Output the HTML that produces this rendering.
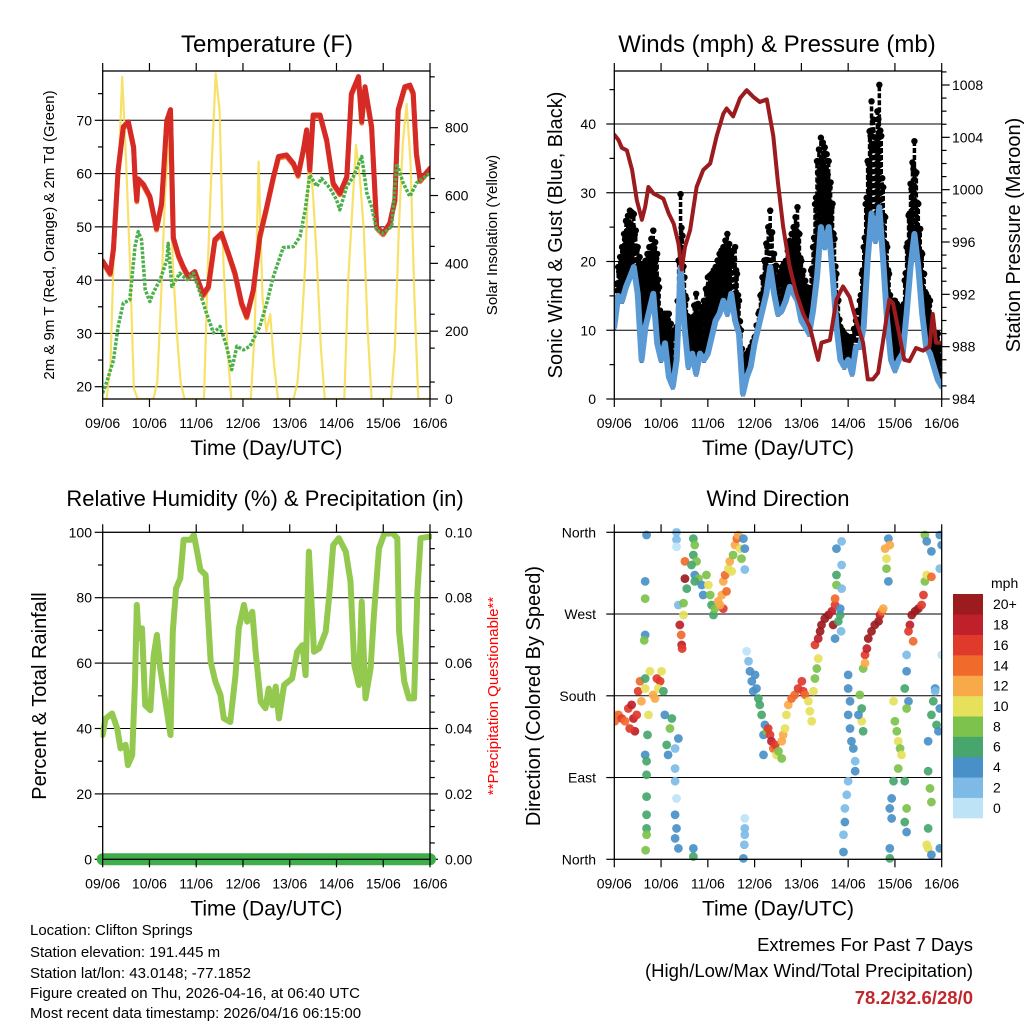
<!DOCTYPE html>
<html><head><meta charset="utf-8"><style>
html,body{margin:0;padding:0;background:#fff}
svg{display:block;font-family:"Liberation Sans",Arial,sans-serif}
</style></head><body>
<svg id="svg" width="1024" height="1024" viewBox="0 0 1024 1024" xmlns="http://www.w3.org/2000/svg">
<rect width="1024" height="1024" fill="#fff"/>
<g id="g1"></g>
<g id="g2"></g>
<g id="g3"></g>
<g id="g4"></g>
<g font-size="15" fill="#000">
<text x="30" y="935">Location: Clifton Springs</text>
<text x="30" y="957">Station elevation: 191.445 m</text>
<text x="30" y="978">Station lat/lon: 43.0148; -77.1852</text>
<text x="30" y="998">Figure created on Thu, 2026-04-16, at 06:40 UTC</text>
<text x="30" y="1018">Most recent data timestamp: 2026/04/16 06:15:00</text>
</g>
<g text-anchor="end">
<text x="973" y="951" font-size="18.5">Extremes For Past 7 Days</text>
<text x="973" y="977" font-size="18.5">(High/Low/Max Wind/Total Precipitation)</text>
<text x="973" y="1004" font-size="18.5" font-weight="bold" fill="#c0282d">78.2/32.6/28/0</text>
</g>
</svg>
<script>
const NS="http://www.w3.org/2000/svg";
const dayLabels=["09/06","10/06","11/06","12/06","13/06","14/06","15/06","16/06"];
// Temperature
const tempTimes=[0,.16,.23,.33,.44,.55,.66,.69,.73,.76,.87,1.01,1.15,1.26,1.37,1.45,1.51,1.62,1.72,1.83,1.97,2.15,2.26,2.40,2.54,2.69,2.83,2.97,3.08,3.22,3.36,3.51,3.65,3.76,3.93,4.08,4.18,4.29,4.36,4.43,4.50,4.65,4.79,4.93,5.07,5.22,5.32,5.47,5.54,5.61,5.75,5.86,6.00,6.14,6.25,6.32,6.46,6.57,6.64,6.71,6.79,7.0];
const tempVals=[43.6,41.3,46,60.7,68.8,69.7,65,59.4,55,59,58,55.7,49.7,54.4,70,72,48,44.7,42.6,40.7,41.6,37.3,38.8,47.6,48.8,45,41.3,35.7,33.2,38.2,48.2,53.8,59.4,63.2,63.5,61.9,59.75,64.4,68.2,60.7,71,71,66.3,58.2,56.3,59.4,75,78.2,69.75,76.3,68.8,50,48.8,50.7,55.1,72,76.3,76.6,75.1,63.8,58.8,61];
const dewTimes=[0,.09,.23,.33,.44,.58,.69,.76,.83,.91,1.01,1.08,1.23,1.37,1.40,1.48,1.65,1.80,1.94,2.08,2.22,2.37,2.51,2.65,2.76,2.87,3.01,3.15,3.36,3.51,3.65,3.86,4.08,4.22,4.33,4.43,4.58,4.68,4.86,5.0,5.07,5.22,5.36,5.54,5.65,5.75,5.86,6.0,6.18,6.29,6.43,6.57,6.71,7.0];
const dewVals=[18.8,21,25,31.3,35.7,36.3,46.3,49.1,47.6,38.2,36,37.6,40.1,43.8,46.9,38.8,41.3,40.1,41.3,37.6,33.8,30.1,31.3,27.6,23.2,27.6,26.9,27.6,31.3,35.7,40.7,46.1,46.3,48.2,53.2,59.75,57.6,59.1,57.25,55.1,53.2,57.6,59.4,63.2,56.3,53.8,49.4,48.8,50.1,61.9,58.2,55.7,58.2,60.1];
// solar, 2-hourly, 12 per day
const solarVals=[0,0,100,500,650,950,700,400,30,0,0,0,
0,0,50,300,600,780,400,200,50,0,0,0,
0,0,0,400,700,960,850,400,150,0,0,0,
0,0,0,200,700,300,200,250,100,0,0,0,
0,0,50,200,400,730,600,400,150,0,0,0,
0,0,0,350,550,750,650,500,200,0,0,0,
0,0,0,150,500,750,870,700,300,0,0,0,0];
const tempTicks=[20,30,40,50,60,70];
const solarTicks=[0,200,400,600,800];
// winds (2-hourly)
const windVals=[10.5,15,14.3,16.3,17.7,19.2,15.3,5.7,10.5,12.9,15.3,8.1,
5.7,8.1,3.2,1.8,5.7,19.2,10.5,4.7,6.6,3.7,6.6,5.7,
6.6,9,11.4,12.4,14.3,12.4,15.3,11.4,9.5,0.8,3.2,4.7,
8.1,10.5,12.9,15.3,19.2,15.3,12.4,12.9,14.3,16.3,15.3,14.3,
11.4,10.5,9.5,12.9,17.7,25,22.1,25,18.2,10.5,5.7,4.7,
5.7,3.7,7.6,7.6,10.5,20.1,27,23,27.9,20.1,11.4,5.7,
4.2,5.7,6.6,12.4,19.2,24,19.2,12.4,7.6,6.6,4.7,2.8,1.8];
const gustVals=[14.3,19.2,22.1,25.9,27.4,26.9,22.1,19.2,20.1,22.1,24.5,21.1,
11.4,12.4,12.4,9.5,10.5,29.8,17.7,11.4,11.9,15.3,12.4,14.3,
17.7,18.2,19.2,21.1,22.1,24,21.1,22.1,14.3,5.7,6.6,7.6,
9,12.4,17.7,22.6,27.4,21.1,17.7,19.2,20.1,23,25,27.9,
20.1,17.2,15.3,22.1,34.6,38,36.6,34.6,28.4,18.2,10.5,9.5,
9,9,11.4,14.3,22.1,34.6,43.3,38,45.7,30.8,22.1,14.3,
14.3,13.4,12.4,22.1,31.3,37.5,28.4,21.1,15.3,14.3,9,9.5,5];
const pressTimes=[0,.09,.16,.27,.38,.48,.59,.66,.73,.84,.95,1.05,1.16,1.27,1.37,1.44,1.51,1.62,1.76,1.90,2.05,2.19,2.33,2.40,2.54,2.69,2.83,2.97,3.11,3.26,3.40,3.50,3.61,3.75,3.89,4.04,4.18,4.32,4.36,4.43,4.61,4.75,4.89,5.03,5.17,5.32,5.42,5.53,5.64,5.74,5.88,5.96,6.10,6.20,6.31,6.45,6.60,6.74,6.81,6.88,7.0];
const pressVals=[1004.2,1003.8,1003.2,1003.0,1001.5,999.2,997.7,998.7,1000.2,999.7,999.5,999.3,998.2,997.4,995.9,993.9,995.6,996.9,1000.2,1001.5,1002.0,1004.1,1005.8,1006.2,1005.6,1007.0,1007.6,1007.1,1006.7,1006.9,1004.1,1000.5,997.2,994.1,992.1,990.5,989.5,987.5,987.0,988.3,988.5,991.6,992.6,991.8,990.0,988.3,985.5,985.5,986.0,988.3,991.6,991.3,988.8,987.0,986.9,987.9,987.7,988.0,990.5,988.3,988.3];
const windTicks=[0,10,20,30,40];
const pressTicks=[984,988,992,996,1000,1004,1008];
// RH
const rhTimes=[0,.06,.2,.31,.38,.49,.54,.63,.69,.73,.77,.84,.91,1.02,1.09,1.16,1.23,1.34,1.45,1.5,1.57,1.66,1.73,1.88,1.95,2.02,2.09,2.2,2.31,2.41,2.52,2.59,2.73,2.84,2.91,3.02,3.09,3.2,3.27,3.38,3.48,3.55,3.63,3.7,3.77,3.88,4.05,4.16,4.27,4.34,4.41,4.52,4.63,4.77,4.84,4.93,5.05,5.2,5.3,5.38,5.48,5.54,5.62,5.73,5.8,5.91,6.02,6.2,6.3,6.34,6.45,6.55,6.66,6.73,6.8,7.0];
const rhVals=[38,43,44.6,40,33.9,35,28.8,31.8,54.3,77.8,67.6,70.6,47.1,45.6,62.4,68.6,58.4,48.2,38,69.6,82.9,85.9,97.7,97.7,99.2,94.1,88.5,87,60.4,54.3,50.2,43.1,42,56.3,70.6,77.8,72.7,75.7,63.5,48.2,46.2,52.2,47.1,52.8,43.1,53.3,55.3,63.5,65.5,56.3,94.1,63.5,64.5,69.6,79.8,96.1,98.2,94.1,84.9,59.4,53.3,78.8,49.2,58.4,74.7,95.1,99.5,99.7,98.2,69.6,54.3,49.2,49.2,81.8,98.2,98.7];
const precipVals=[0,0];
const rhTicks=[0,20,40,60,80,100];
const precipTicks=["0.00","0.02","0.04","0.06","0.08","0.10"];
// wind direction
const dirTimes=[0,.01,.09,.16,.23,.3,.37,.41,.44,.33,.48,.51,.55,.58,.66,.73,.76,.83,.91,.98,1.01,.94,.87,
.69,.66,.66,.66,.64,.66,.71,.66,.69,.69,.69,.69,.69,.69,.67,
1.05,1.08,1.23,1.19,1.12,1.15,1.3,1.37,1.3,1.3,1.33,1.3,1.33,1.3,1.37,1.69,1.69,
1.33,1.33,1.33,1.37,1.48,1.48,1.4,1.43,1.44,1.45,1.51,1.51,1.55,
1.69,1.72,1.69,1.76,1.65,1.72,1.8,1.72,1.87,1.9,1.97,2.01,2.05,2.08,2.12,2.15,2.22,2.3,2.33,2.37,2.4,2.44,2.47,2.51,2.54,2.58,2.62,2.65,2.69,2.72,2.76,2.79,2.79,2.33,2.26,
2.83,2.87,2.9,2.94,2.97,3.01,3.04,3.08,3.11,3.15,3.22,3.19,3.26,3.29,3.33,3.36,3.4,3.44,3.47,3.51,3.58,3.58,3.61,3.65,3.68,3.72,3.79,3.86,3.93,4.01,4.04,4.08,4.15,4.18,4.22,4.26,4.29,4.33,4.36,3.19,2.79,2.79,2.79,2.78,2.76,
4.29,4.36,4.4,4.43,4.5,4.58,4.65,4.68,4.72,4.72,4.79,4.83,4.85,4.72,4.75,4.75,4.75,4.86,4.86,4.86,4.83,
5.0,5.0,5.04,5.0,5.04,5.07,5.11,5.15,5.15,5.0,4.97,4.93,4.93,4.9,4.9,5.25,5.29,5.29,5.32,5.22,
5.32,5.36,5.4,5.43,5.5,5.57,5.65,5.68,5.72,5.75,5.36,5.79,5.82,5.82,5.86,5.86,5.89,
5.97,6.0,6.04,6.07,6.11,6.14,6.07,5.97,5.93,5.89,5.93,6.21,6.25,6.29,6.25,6.21,6.25,6.21,6.25,5.89,5.89,6.25,
6.32,6.36,6.43,6.5,6.57,6.61,6.64,6.68,6.78,6.29,6.39,6.64,6.68,6.78,
6.71,6.78,6.82,6.86,6.89,6.93,6.96,7.0,6.96,7.0,6.96,6.71,6.75,6.78,6.71,6.68,6.71,6.78,6.96,6.86];
const dirDegs=[159,152,159,155,152,166,170,155,141,144,159,185,196,174,188,159,207,181,199,196,207,188,177,
357,306,287,247,241,199,137,115,108,93,69,49,34,27,10,
185,159,155,144,126,115,122,133,100,86,67,49,34,23,12,12,3,
360,352,344,280,269,282,258,247,236,232,328,309,298,
353,346,335,328,324,313,309,306,302,291,313,302,291,280,269,276,284,291,306,313,295,320,328,317,335,346,353,357,342,331,353,342,319,276,280,
229,218,207,196,185,203,188,177,170,159,148,137,141,144,137,130,122,126,115,119,111,130,137,144,159,170,177,181,188,196,185,181,174,163,152,185,199,210,221,115,45,34,27,16,1,
236,243,251,258,265,269,273,258,280,287,262,269,251,243,313,302,342,350,324,298,276,
203,188,174,159,144,130,122,108,97,86,71,56,41,27,8,181,166,152,141,159,
210,225,232,243,251,258,262,269,273,276,216,342,331,320,353,306,346,
174,152,141,130,122,115,100,86,67,56,45,188,207,174,166,86,56,41,30,12,1,225,
258,269,273,276,280,291,306,313,311,251,240,357,350,339,
130,159,174,188,148,141,166,225,357,346,320,97,78,63,34,16,12,5,12,185];
const dirSpeeds=[12,14,14,16,14,16,18,18,18,16,16,16,14,12,10,10,10,12,16,16,10,10,12,
4,4,8,4,8,6,6,4,6,6,6,6,6,8,8,
6,4,6,8,6,4,2,4,2,2,0,4,4,4,4,4,6,
2,2,0,2,10,8,18,14,18,16,14,20,6,
6,8,6,8,6,4,8,6,4,4,8,10,8,6,6,8,12,12,12,14,14,10,12,10,8,12,14,12,10,8,4,4,2,16,12,
0,2,4,4,4,4,4,6,6,6,4,4,8,16,16,18,14,16,10,8,8,12,12,10,10,12,14,14,16,16,16,14,10,10,10,10,8,8,10,4,0,2,2,2,4,
16,18,20,20,20,20,18,20,16,14,6,6,2,4,6,8,4,2,2,2,4,
4,4,4,4,4,4,4,2,4,2,2,2,4,2,4,8,6,10,6,4,
8,16,18,20,20,20,20,18,14,12,12,12,10,8,4,4,12,
10,8,8,10,8,10,8,6,4,4,4,6,4,4,8,6,8,6,4,4,6,2,
18,20,20,20,16,16,8,10,14,16,14,8,4,4,
4,6,6,4,6,4,4,0,4,4,2,6,8,8,6,10,10,4,4,2];
const dirTicks=["North","East","South","West","North"];
const speedBins=["0","2","4","6","8","10","12","14","16","18","20+"];
const speedColors=["#bde3f7","#7dbbe6","#4a90c8","#46a66c","#7dc24c","#e6e05a","#f8a948","#f06a2c","#e03a2c","#c0202a","#9b1b1e"];

function mk(parent,tag,attrs){const e=document.createElementNS(NS,tag);for(const k in attrs)e.setAttribute(k,attrs[k]);parent.appendChild(e);return e;}
function txt(parent,x,y,s,size,anchor,extra){const t=mk(parent,"text",Object.assign({x:x,y:y,"font-size":size,"text-anchor":anchor||"middle"},extra||{}));t.textContent=s;return t;}

const L={x0:102.7,x1:430,top:71,bot:399};
const R={x0:614.3,x1:941.7,top:71,bot:399};
const L2={x0:102.7,x1:430,top:532.3,bot:859.3};
const R2={x0:614.3,x1:941.7,top:532.3,bot:859.3};
function xs(p,d){return p.x0+(p.x1-p.x0)*d/7;}
function lin(v,v0,y0,v1,y1){return y0+(v-v0)*(y1-y0)/(v1-v0);}

function frame(g,p){
  mk(g,"rect",{x:p.x0,y:p.top,width:p.x1-p.x0,height:p.bot-p.top,fill:"none",stroke:"#000","stroke-width":1.3});
  for(let i=0;i<8;i++){const x=xs(p,i);
    mk(g,"line",{x1:x,x2:x,y1:p.bot,y2:p.bot+8,stroke:"#000","stroke-width":1.2});
    mk(g,"line",{x1:x,x2:x,y1:p.top,y2:p.top-8,stroke:"#000","stroke-width":1.2});
    const t=txt(g,x,p.bot+29,dayLabels[i],14);
    
    
  }
  const xt=txt(g,(p.x0+p.x1)/2,p.bot+56,"Time (Day/UTC)",21);
  
  
}
function hgrid(g,p,y){mk(g,"line",{x1:p.x0,x2:p.x1,y1:y,y2:y,stroke:"#000","stroke-width":1});}
function ytick(g,x,y,dir){mk(g,"line",{x1:x,x2:x+dir*8,y1:y,y2:y,stroke:"#000","stroke-width":1.2});}
function poly(g,pts,attrs){return mk(g,"polyline",Object.assign({points:pts.map(p=>p[0].toFixed(1)+","+p[1].toFixed(1)).join(" "),fill:"none","stroke-linejoin":"round","stroke-linecap":"round"},attrs));}

// ---------- Panel 1 ----------
(function(){
const g=document.getElementById("g1");const p=L;
const yT=v=>lin(v,20,386.7,70,120.3);
const yS=v=>lin(v,0,399,800,127.7);
txt(g,267,52,"Temperature (F)",24);
tempTicks.forEach(v=>{const y=yT(v);hgrid(g,p,y);ytick(g,p.x0,y,-1);
  const t=txt(g,92,y+5,String(v),14,"end");});
for(let v=25;v<=75;v+=10){ytick(g,p.x0,yT(v),-0.6);}
solarTicks.forEach(v=>{const y=yS(v);ytick(g,p.x1,y,1);
  const t=txt(g,445,y+5,String(v),14,"start");});
for(let v=50;v<=950;v+=100){ytick(g,p.x1,yS(v),0.6);}
const cl=mk(g,"clipPath",{id:"c1"});mk(cl,"rect",{x:p.x0,y:p.top,width:p.x1-p.x0,height:p.bot-p.top});
const d=mk(g,"g",{"clip-path":"url(#c1)"});
const sol=poly(d,solarVals.map((v,i)=>[xs(p,i/12),yS(v)]),{stroke:"#f7dc4f","stroke-width":2.2,opacity:.85});

const o=poly(d,tempTimes.map((t,i)=>[xs(p,t),yT(tempVals[i])+1.5]),{stroke:"#f07a30","stroke-width":5});

const r=poly(d,tempTimes.map((t,i)=>[xs(p,t),yT(tempVals[i])]),{stroke:"#d62a27","stroke-width":5});

const gr=poly(d,dewTimes.map((t,i)=>[xs(p,t),yT(dewVals[i])]),{stroke:"#4bb04b","stroke-width":3.5,"stroke-dasharray":"3 1.5","stroke-linecap":"butt"});

frame(g,p);
const a=txt(g,0,0,"2m & 9m T (Red, Orange) & 2m Td (Green)",15,"middle",{transform:"translate(54,235) rotate(-90)"});

const b=txt(g,0,0,"Solar Insolation (Yellow)",15,"middle",{transform:"translate(497,235) rotate(-90)"});

})();

// ---------- Panel 2 ----------
(function(){
const g=document.getElementById("g2");const p=R;
const yW=v=>lin(v,0,399,40,124);
const yP=v=>lin(v,984,399,1008,85);
txt(g,777,52,"Winds (mph) & Pressure (mb)",24);
windTicks.forEach(v=>{const y=yW(v);if(v>0)hgrid(g,p,y);ytick(g,p.x0,y,-1);
  const t=txt(g,596,y+5,String(v),14,"end");});
for(let v=5;v<=45;v+=10)ytick(g,p.x0,yW(v),-0.6);
pressTicks.forEach(v=>{const y=yP(v);ytick(g,p.x1,y,1);
  const t=txt(g,952,y+5,String(v),14,"start");});
for(let v=985;v<=1009;v++){if(v%4)ytick(g,p.x1,yP(v),0.6);}
const cl=mk(g,"clipPath",{id:"c2"});mk(cl,"rect",{x:p.x0,y:p.top,width:p.x1-p.x0,height:p.bot-p.top});
const d=mk(g,"g",{"clip-path":"url(#c2)"});
windVals.forEach((w,i)=>{
  if(i>=windVals.length-1){return;}
  const w2=windVals[i+1],g1=gustVals[i],g2=gustVals[i+1];
  for(let k=0;k<4;k++){const f=k/4;const x=xs(p,(i+f)/12);
    const wv=w+(w2-w)*f;const gv=g1+(g2-g1)*f;const top=gv*(k%2?0.93:1);
    const l=mk(d,"line",{x1:x,x2:x,y1:yW(wv)+3,y2:yW(top),stroke:"#000","stroke-width":3.5,"stroke-dasharray":"5 2"});
    
    const c=mk(d,"circle",{cx:x,cy:yW(top),r:3.2,fill:"#000"});
    }
});
const bl=poly(d,windVals.map((v,i)=>[xs(p,i/12),yW(v)]),{stroke:"#5b9bd5","stroke-width":6});

const pr=poly(d,pressTimes.map((t,i)=>[xs(p,t),yP(pressVals[i])]),{stroke:"#9b1b1e","stroke-width":4});

frame(g,p);
const a=txt(g,0,0,"Sonic Wind & Gust (Blue, Black)",20,"middle",{transform:"translate(562,235) rotate(-90)"});

const b=txt(g,0,0,"Station Pressure (Maroon)",20,"middle",{transform:"translate(1020,235) rotate(-90)"});

})();

// ---------- Panel 3 ----------
(function(){
const g=document.getElementById("g3");const p=L2;
const yR=v=>lin(v,0,859.3,100,532.3);
txt(g,265,506,"Relative Humidity (%) & Precipitation (in)",22);
rhTicks.forEach((v,i)=>{const y=yR(v);if(v>0&&v<100)hgrid(g,p,y);ytick(g,p.x0,y,-1);ytick(g,p.x1,y,1);
  const t=txt(g,92,y+5,String(v),14,"end");
  const t2=txt(g,445,y+5,precipTicks[i],14,"start");});
for(let v=10;v<100;v+=20){ytick(g,p.x0,yR(v),-0.6);}
for(let v=5;v<100;v+=5){if(v%20)ytick(g,p.x1,yR(v),0.6);}
const cl=mk(g,"clipPath",{id:"c3"});mk(cl,"rect",{x:p.x0-2,y:p.top,width:p.x1-p.x0+4,height:p.bot-p.top+2});
const d=mk(g,"g",{"clip-path":"url(#c3)"});
const rh=poly(d,rhTimes.map((t,i)=>[xs(p,t),yR(rhVals[i])]),{stroke:"#92c94e","stroke-width":6});

const pr=poly(g,precipVals.map((v,i)=>[xs(p,i*7),yR(v*1000)]),{stroke:"#3fad4a","stroke-width":12});

frame(g,p);
const a=txt(g,0,0,"Percent & Total Rainfall",20,"middle",{transform:"translate(46,696) rotate(-90)"});

const b=txt(g,0,0,"**Precipitation Questionable**",15,"middle",{transform:"translate(498,696) rotate(-90)",fill:"#ff0000"});

})();

// ---------- Panel 4 ----------
(function(){
const g=document.getElementById("g4");const p=R2;
const yD=v=>lin(v,0,859.3,360,532.3);
txt(g,778,506,"Wind Direction",22);
dirTicks.forEach((s,i)=>{const y=yD(i*90);if(i>0&&i<4)hgrid(g,p,y);ytick(g,p.x0,y,-1);
  const t=txt(g,596,y+5,s,14,"end");});
const cl=mk(g,"clipPath",{id:"c4"});mk(cl,"rect",{x:p.x0,y:p.top-4,width:p.x1-p.x0,height:p.bot-p.top+8});
const d=mk(g,"g",{"clip-path":"url(#c4)"});
dirTimes.forEach((t,i)=>{const bin=Math.min(10,Math.round(dirSpeeds[i]/2));
  const c=mk(d,"circle",{cx:xs(p,t),cy:yD(dirDegs[i]),r:4.4,fill:speedColors[bin],opacity:.92});
  });
frame(g,p);
const a=txt(g,0,0,"Direction (Colored By Speed)",20,"middle",{transform:"translate(540,696) rotate(-90)"});

const cb=mk(g,"g",{});
const h=(818-594)/11;
speedBins.forEach((s,i)=>{const y=818-(i+1)*h;
  const r=mk(cb,"rect",{x:953,y:y,width:30,height:h+0.3,fill:speedColors[i]});
  
  const t=txt(cb,993,y+h/2+5,s,14,"start");});
const m=txt(cb,991,588,"mph",14,"start");
})();
</script>
</body></html>
